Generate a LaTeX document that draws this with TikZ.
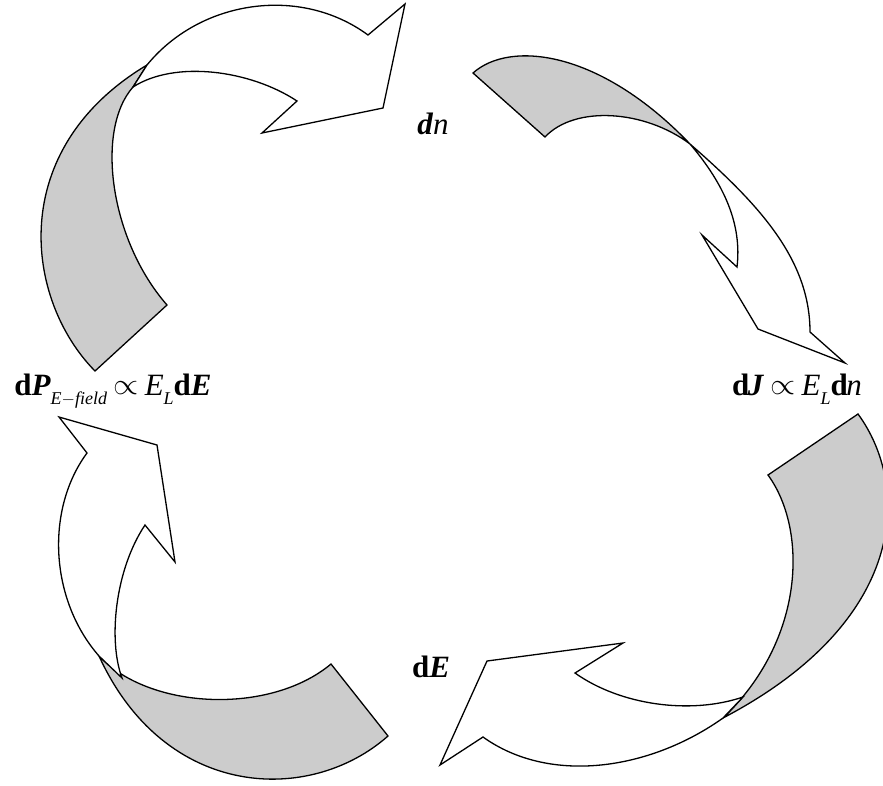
\documentclass[tikz,border=0pt]{standalone}
\usepackage{graphicx}
\usepackage{fontspec}
\setmainfont{Liberation Serif}
\definecolor{backgray}{RGB}{204,204,204}
\tikzset{
  back/.style={draw=black, fill=backgray, line width=1.3pt, line join=miter},
  front/.style={draw=black, fill=white, line width=1.3pt, line join=miter},
  lbl/.style={inner sep=0pt, font=\fontsize{31}{35}\selectfont}
}
\newcommand{\smallsub}[1]{\raisebox{-0.3em}{\fontsize{18}{18}\selectfont #1}}
\newcommand{\prop}{\kern0.2em\raisebox{0.02em}{\scalebox{1.3}[1.2]{$\propto$}}\kern0.2em}
\begin{document}
\begin{tikzpicture}[x=1pt,y=-1pt]
\useasboundingbox (0,0) rectangle (883,785);
\begin{scope}
\clip (0,0) rectangle (883,785);
% arrow 1 (top left, towards dn)
\path[back] (95,371) .. controls (25,300) and (5,150) .. (147,65)
  -- (133,87) .. controls (95,130) and (110,240) .. (167,305) -- cycle;
\path[front] (147,65) .. controls (200,0) and (300,-15) .. (368,35)
  -- (405,4) -- (383,108) -- (262,133) -- (297,101)
  .. controls (250,70) and (175,60) .. (133,87) -- cycle;
% arrow 2 (top right, towards dJ)
\path[back] (473,73) .. controls (510,40) and (600,50) .. (690,144)
  .. controls (645,110) and (575,105) .. (545,137) -- cycle;
\path[front] (690,144) .. controls (760,205) and (810,260) .. (810,332)
  -- (845,363) -- (758,329) -- (702,235) -- (737,267)
  .. controls (742,225) and (725,185) .. (690,144) -- cycle;
% arrow 3 (bottom right, towards dE)
\path[back] (858,414) .. controls (910,485) and (910,620) .. (723,718)
  .. controls (805,640) and (808,530) .. (768,475) -- cycle;
\path[front] (723,718) .. controls (650,770) and (550,785) .. (483,737)
  -- (440,765) -- (487,661) -- (623,643) -- (575,673)
  .. controls (620,705) and (690,715) .. (743,697) -- cycle;
% arrow 4 (bottom left, towards dP)
\path[back] (388,736) .. controls (310,805) and (165,800) .. (99,656)
  .. controls (150,710) and (270,715) .. (331,664) -- cycle;
\path[front] (99,656) .. controls (50,600) and (45,510) .. (87,453)
  -- (59,417) -- (157,445) -- (175,562) -- (145,525)
  .. controls (115,570) and (108,640) .. (122,678) -- cycle;
\end{scope}
% labels
\node[lbl, anchor=base] (dn) at (433,134) {\textbf{\textit{d}}\textit{n}};
\node[lbl, anchor=base] (dP) at (113,395) {\textbf{d\textit{P}}\smallsub{\textit{E}$-$\textit{field}}\prop\textit{E}\smallsub{\textit{L}}\textbf{d\textit{E}}};
\node[lbl, anchor=base] (dJ) at (797,395) {\textbf{d\kern-0.05em\textit{J}}\prop\textit{E}\smallsub{\textit{L}}\textbf{d}\kern-0.05em\textit{n}};
\node[lbl, anchor=base] (dE) at (431,677) {\textbf{d\textit{E}}};
\end{tikzpicture}
\end{document}
